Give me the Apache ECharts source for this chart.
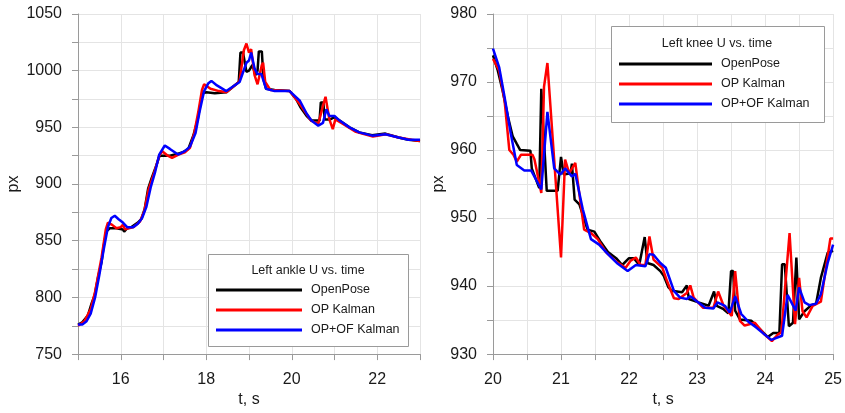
<!DOCTYPE html>
<html><head><meta charset="utf-8">
<script src="https://cdn.jsdelivr.net/npm/echarts@6/dist/echarts.min.js"></script>
<style>html,body{margin:0;padding:0;background:#fff}#c{width:845px;height:413px}</style>
</head><body><div id="c"></div>
<script>
// ---------- Left ankle U vs. time ----------
const ankleT_OP = [15.0,15.1,15.23,15.32,15.39,15.47,15.55,15.6,15.66,15.74,15.9,16.05,16.08,16.15,16.25,16.4,16.48,16.56,16.64,16.72,16.8,16.91,17.0,17.15,17.27,17.45,17.58,17.7,17.8,17.87,17.92,18.0,18.2,18.47,18.6,18.76,18.8,18.86,18.9,18.94,19.0,19.08,19.15,19.2,19.23,19.3,19.34,19.4,19.6,19.95,20.1,20.2,20.35,20.46,20.65,20.68,20.74,20.77,20.9,21.0,21.12,21.35,21.58,21.88,22.19,22.5,22.73,23.0];
const ankleV_OP = [776,778,784,795,802,818,831,845,858,861,861,860,858,861,862,866,869,878,896,905,913,925,925,925,926,928,931,943,957,972,980,981,980,981,985,990,1016,1016,1016,999,1000,1005,996,1000,1017,1017,992,984,983,982,975,968,960,956,956,972,972,957,957,959,956,950,945.6,943,944.5,941,939,938];
const ankleT_K = [15.0,15.15,15.3,15.4,15.55,15.65,15.7,15.8,15.9,16.0,16.05,16.1,16.3,16.45,16.55,16.65,16.8,16.9,16.97,17.1,17.2,17.35,17.5,17.62,17.72,17.82,17.9,17.95,18.1,18.3,18.47,18.7,18.78,18.88,18.94,19.0,19.05,19.13,19.2,19.3,19.33,19.38,19.5,19.95,20.2,20.45,20.62,20.73,20.79,20.88,20.96,21.02,21.2,21.5,21.9,22.2,22.5,22.8,23.0];
const ankleV_K = [775,779,790,805,835,860,866,864,861,862,864,860,862,867,876,895,912,925,929,925,923,926,928,932,945,965,983,988,984,982,981,988,991,1018,1024,1016,1019,996,988,1005,1007,990,983,982,970,956,953,969,977,957,948.5,957,953,946,942,944,941,939,938];
const ankleT_OF = [15.0,15.1,15.2,15.3,15.4,15.5,15.6,15.7,15.78,15.86,15.95,16.05,16.15,16.29,16.4,16.5,16.6,16.7,16.8,16.9,17.03,17.15,17.34,17.5,17.62,17.75,17.85,17.95,18.05,18.12,18.25,18.47,18.78,18.94,19.0,19.05,19.13,19.2,19.29,19.4,19.6,19.95,20.19,20.35,20.46,20.62,20.73,20.81,20.88,21.0,21.12,21.35,21.58,21.88,22.19,22.5,22.73,23.0];
const ankleV_OF = [776,776,779,786,800,820,842,862,870,872,869,866,862,862,865,870,880,897,910,926,934,931,926,929,933,945,965,982,989,991,987,982,990,1007,1009,1016,1002,997,997,984,982,982,973.5,962,956,951.5,954,966,960,960,956,950,945.6,942.7,944,941,939,939];

// ---------- Left knee U vs. time ----------
const kneeT_OP = [20.0,20.07,20.14,20.22,20.29,20.35,20.40,20.55,20.57,20.68,20.71,20.73,20.79,20.95,21.0,21.04,21.14,21.16,21.2,21.27,21.39,21.49,21.59,21.69,21.81,21.9,22.0,22.07,22.15,22.23,22.27,22.36,22.46,22.51,22.58,22.63,22.78,22.85,22.88,23.02,23.17,23.25,23.29,23.39,23.46,23.5,23.53,23.56,23.63,23.8,23.95,24.04,24.12,24.21,24.25,24.29,24.35,24.41,24.46,24.5,24.58,24.68,24.75,24.82,24.92,25.0];
const kneeV_OP = [973.9,971.7,968.8,964.9,962,960.9,960,959.9,957.3,954.4,969,969,954,954,959,956.4,956.6,958,952.7,952,948.3,948,946.4,945,944.1,943.1,944.1,944.1,943.1,947.2,943.4,943.1,942.2,941.5,939.8,939.3,939.1,940.1,938.1,937.6,937.1,939.2,937.1,936.6,936,942.2,942.2,936.4,935.1,934.9,933.4,932.5,933.1,933.1,943.2,943.2,934.1,934.6,944.2,935.1,936.3,937.2,937.4,941.2,944.9,945.2];
const kneeT_K = [20.0,20.09,20.17,20.24,20.30,20.35,20.41,20.51,20.58,20.61,20.71,20.75,20.80,21.0,21.06,21.12,21.21,21.25,21.34,21.44,21.54,21.66,21.81,21.95,22.02,22.1,22.17,22.24,22.3,22.36,22.49,22.56,22.66,22.73,22.85,22.9,22.95,23.09,23.24,23.31,23.39,23.51,23.56,23.63,23.7,23.85,23.99,24.1,24.19,24.24,24.36,24.44,24.5,24.55,24.61,24.7,24.82,24.96,25.0];
const kneeV_K = [973.4,971.7,967.3,960,959.3,958.3,959.3,959.3,959.3,958.6,953.7,969.3,972.8,944.2,958.6,956.6,958.1,955,948.3,947.8,946.9,945,943.6,942.7,943.7,944.2,943.1,943.1,947.3,943.9,942.7,940.7,938.2,938.1,939,940.1,938.3,936.8,936.8,939.2,937.1,935.6,942.2,934.9,934.2,934.6,932.9,931.9,932.9,933.2,947.8,934.4,941.2,936.3,935.4,937.1,937.7,947,947];
const kneeT_OF = [20.0,20.09,20.17,20.26,20.35,20.46,20.56,20.71,20.80,20.90,20.99,21.06,21.16,21.21,21.32,21.44,21.56,21.69,21.82,21.98,22.1,22.24,22.3,22.36,22.46,22.54,22.66,22.75,22.85,22.9,23.02,23.12,23.24,23.3,23.41,23.48,23.56,23.65,23.75,23.87,23.99,24.09,24.25,24.33,24.45,24.5,24.58,24.65,24.75,24.82,24.92,25.0];
const kneeV_OF = [974.9,972.2,967.8,962.5,957.8,957,957,954.2,965.6,957.3,956.4,957.3,956.1,956.5,951.3,946.9,946.1,944.7,943.4,942.2,943.1,942.9,944.7,944.6,943.4,942.7,939.3,938.3,938.1,938.5,937.6,936.8,936.7,937.6,937.1,936.1,938.5,935.9,934.8,933.9,932.9,932.1,932.7,938.7,936.4,939.8,937.6,937.2,937.4,938.8,943.4,946.1];

const seriesNames = ['OpenPose','OP Kalman','OP+OF Kalman'];
const seriesColors = ['#000000','#ff0000','#0000ff'];
const leftTitle = 'Left ankle U vs. time';
const rightTitle = 'Left knee U vs. time';

const zip = (t, v) => t.map((x, i) => [x, v[i]]);
const FONT = '"Liberation Sans", Arial, sans-serif';
const axisCol = '#9a9a9a', gridCol = '#e4e4e4', txt = '#1a1a1a';

function xAx(idx, min, max, interval, labelEvery) {
  return {
    type: 'value', gridIndex: idx, min, max, interval,
    name: 't, s', nameLocation: 'middle', nameGap: 37,
    nameTextStyle: {fontFamily: FONT, fontSize: 16, color: txt},
    axisLine: {show: true, onZero: false, lineStyle: {color: axisCol, width: 1}},
    axisTick: {show: true, length: 6, lineStyle: {color: axisCol}},
    splitLine: {show: true, lineStyle: {color: gridCol, width: 1}},
    axisLabel: {fontFamily: FONT, fontSize: 16, color: txt, margin: 17,
      formatter: v => (Math.abs(v / labelEvery - Math.round(v / labelEvery)) < 1e-6 && (idx === 1 || (v !== min && v !== max))) ? String(Math.round(v)) : ''}
  };
}
function yAx(idx, min, max, interval, labelEvery, gap) {
  return {
    type: 'value', gridIndex: idx, min, max, interval,
    name: 'px', nameLocation: 'middle', nameGap: gap, nameRotate: 90,
    nameTextStyle: {fontFamily: FONT, fontSize: 16, color: txt},
    axisLine: {show: true, lineStyle: {color: axisCol, width: 1}},
    axisTick: {show: true, length: 6, lineStyle: {color: axisCol}},
    splitLine: {show: true, lineStyle: {color: gridCol, width: 1}},
    axisLabel: {fontFamily: FONT, fontSize: 16, color: txt, margin: 16,
      formatter: v => (Math.abs(v / labelEvery - Math.round(v / labelEvery)) < 1e-6) ? String(Math.round(v)) : ''}
  };
}
function mk(name, color, data, idx) {
  return {type: 'line', name, xAxisIndex: idx, yAxisIndex: idx, data, symbol: 'none',
    lineStyle: {color, width: 2.5}, itemStyle: {color}, z: 3 + seriesNames.indexOf(name)};
}
function legend(left, top, w) {
  return {show: true, orient: 'vertical', left, top, padding: 0, itemWidth: w, itemHeight: 3, itemGap: 0, z: 30,
    icon: 'rect', data: seriesNames, selectedMode: false,
    textStyle: {fontFamily: FONT, fontSize: 12.5, color: txt, lineHeight: 20, padding: [0, 0, 0, 4]}};
}

const chart = echarts.init(document.getElementById('c'), null, {renderer: 'canvas'});
chart.setOption({
  animation: false,
  grid: [
    {left: 78, top: 14, width: 342, height: 342},
    {left: 493, top: 14, width: 343, height: 342}
  ],
  xAxis: [xAx(0, 15, 23, 1, 2), xAx(1, 20, 25, 0.5, 1)],
  yAxis: [yAx(0, 750, 1050, 25, 50, 56), yAx(1, 930, 980, 5, 10, 44)],
  legend: [legend(216, 280, 86), legend(619, 54, 93)],
  graphic: [
    {type: 'rect', shape: {x: 208.5, y: 254.5, width: 200, height: 92}, style: {fill: '#fff', stroke: '#9a9a9a', lineWidth: 1}, z: 10},
    {type: 'text', x: 308, y: 271, style: {text: leftTitle, font: '12.5px ' + FONT, fill: txt, textAlign: 'center', textVerticalAlign: 'middle'}, z: 11},
    {type: 'rect', shape: {x: 611.5, y: 26.5, width: 213, height: 96}, style: {fill: '#fff', stroke: '#9a9a9a', lineWidth: 1}, z: 10},
    {type: 'text', x: 717, y: 44, style: {text: rightTitle, font: '12.5px ' + FONT, fill: txt, textAlign: 'center', textVerticalAlign: 'middle'}, z: 11}
  ],
  series: [
    mk(seriesNames[0], seriesColors[0], zip(ankleT_OP, ankleV_OP), 0),
    mk(seriesNames[1], seriesColors[1], zip(ankleT_K, ankleV_K), 0),
    mk(seriesNames[2], seriesColors[2], zip(ankleT_OF, ankleV_OF), 0),
    mk(seriesNames[0], seriesColors[0], zip(kneeT_OP, kneeV_OP), 1),
    mk(seriesNames[1], seriesColors[1], zip(kneeT_K, kneeV_K), 1),
    mk(seriesNames[2], seriesColors[2], zip(kneeT_OF, kneeV_OF), 1)
  ]
});
</script></body></html>
